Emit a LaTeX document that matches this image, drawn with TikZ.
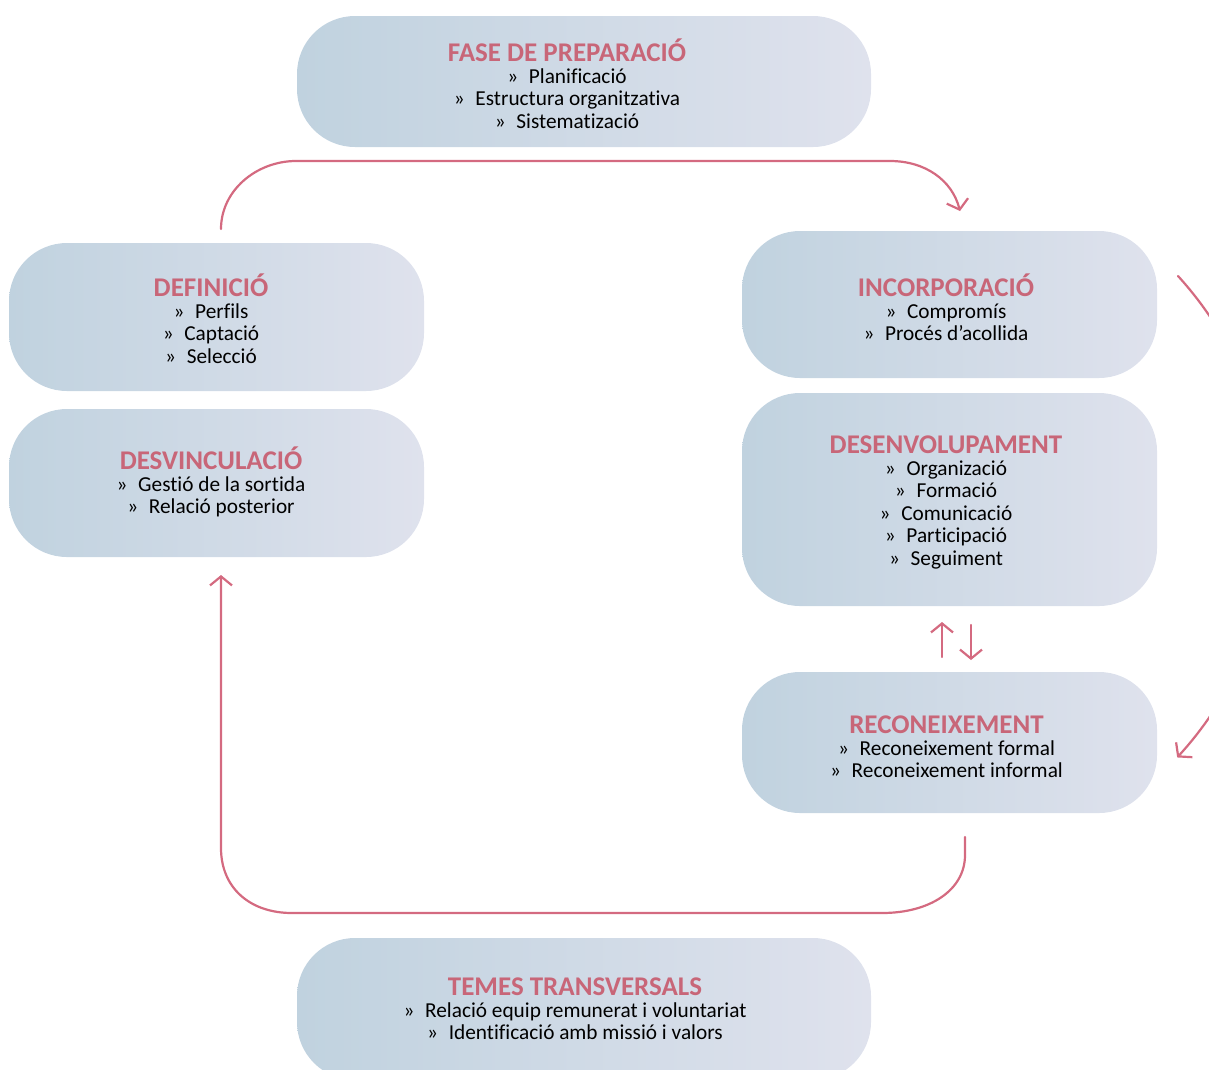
\documentclass[tikz,border=0pt]{standalone}
\usepackage{fontspec}
\setmainfont{Carlito}[Ligatures=NoCommon]
\usetikzlibrary{arrows.meta}
\definecolor{boxL}{RGB}{192,210,223}
\definecolor{boxR}{RGB}{223,226,237}
\definecolor{ttlcol}{RGB}{200,102,120}
\definecolor{arrcol}{RGB}{212,106,128}
\newcommand{\phtitle}[1]{{\fontsize{27}{22.5}\selectfont\bfseries\color{ttlcol}#1}}
\newcommand{\itm}[1]{»\enspace #1}
\tikzset{
  phase/.style={rounded corners=58pt, left color=boxL, right color=boxR, draw=none, inner sep=0pt},
  phtext/.style={align=center, inner sep=0pt, anchor=base, font=\fontsize{21.3}{22.5}\selectfont},
  flowline/.style={draw=arrcol, line width=2.2pt, line cap=round},
  flow/.style={flowline, -{Straight Barb[length=9pt,width=22pt,line width=2.2pt]}}
}
\begin{document}
\begin{tikzpicture}[x=1pt,y=-1pt]
\useasboundingbox (0,0) rectangle (1209,1069);
\clip (0,0) rectangle (1209,1069);
% boxes
\node[phase, minimum width=574pt, minimum height=131pt] (prep) at (584,81.5) {};
\node[phase, minimum width=415pt, minimum height=148pt] (def) at (216.5,317) {};
\node[phase, minimum width=415pt, minimum height=148pt] (desv) at (216.5,483) {};
\node[phase, minimum width=415pt, minimum height=147pt] (inc) at (949.5,304.5) {};
\node[phase, minimum width=415pt, minimum height=213pt] (dev) at (949.5,499.5) {};
\node[phase, minimum width=415pt, minimum height=141pt] (rec) at (949.5,742.5) {};
\node[phase, minimum width=574pt, minimum height=142pt] (tem) at (584,1009) {};
% texts (anchor = baseline of the last line)
\node[phtext] (prept) at (567,128)
  {\phtitle{FASE DE PREPARACIÓ}\\[-1pt] \itm{Planificació}\\ \itm{Estructura organitzativa}\\ \itm{Sistematizació}};
\node[phtext] (deft) at (211,363)
  {\phtitle{DEFINICIÓ}\\[-1pt] \itm{Perfils}\\ \itm{Captació}\\ \itm{Selecció}};
\node[phtext] (desvt) at (211,513.5)
  {\phtitle{DESVINCULACIÓ}\\[-1pt] \itm{Gestió de la sortida}\\ \itm{Relació posterior}};
\node[phtext] (inct) at (946,340.5)
  {\phtitle{INCORPORACIÓ}\\[-1pt] \itm{Compromís}\\ \itm{Procés d’acollida}};
\node[phtext] (devt) at (946,565)
  {\phtitle{DESENVOLUPAMENT}\\[-1pt] \itm{Organizació}\\ \itm{Formació}\\ \itm{Comunicació}\\ \itm{Participació}\\ \itm{Seguiment}};
\node[phtext] (rect) at (946.5,777.5)
  {\phtitle{RECONEIXEMENT}\\[-1pt] \itm{Reconeixement formal}\\ \itm{Reconeixement informal}};
\node[phtext] (temt) at (575,1039.5)
  {\phtitle{TEMES TRANSVERSALS}\\[-1pt] \itm{Relació equip remunerat i voluntariat}\\ \itm{Identificació amb missió i valors}};
% connector end points
\coordinate (t0) at (221,229);
\coordinate (t1) at (960,211);
\coordinate (b0) at (965,837);
\coordinate (b1) at (221,575);
\coordinate (r0) at (1178,276);
\coordinate (u0) at (942,657);
\coordinate (u1) at (942,622);
\coordinate (d0) at (971,625);
\coordinate (d1) at (971,660);
% top connector
\draw[flow] (t0) .. controls (221,190) and (257,161) .. (296,161) -- (890,161)
  .. controls (925,161) and (952,180) .. (t1);
% bottom connector
\draw[flow] (b0) -- (965,855) .. controls (965,890) and (930,913) .. (882,913) -- (292,913)
  .. controls (250,913) and (221,888) .. (221,848) -- (b1);
% right arc
\draw[flow] (r0) arc[start angle=42.3, end angle=-42.5, radius=357pt];
% up / down arrows
\draw[flow] (u0) -- (u1);
\draw[flow] (d0) -- (d1);
\end{tikzpicture}
\end{document}
